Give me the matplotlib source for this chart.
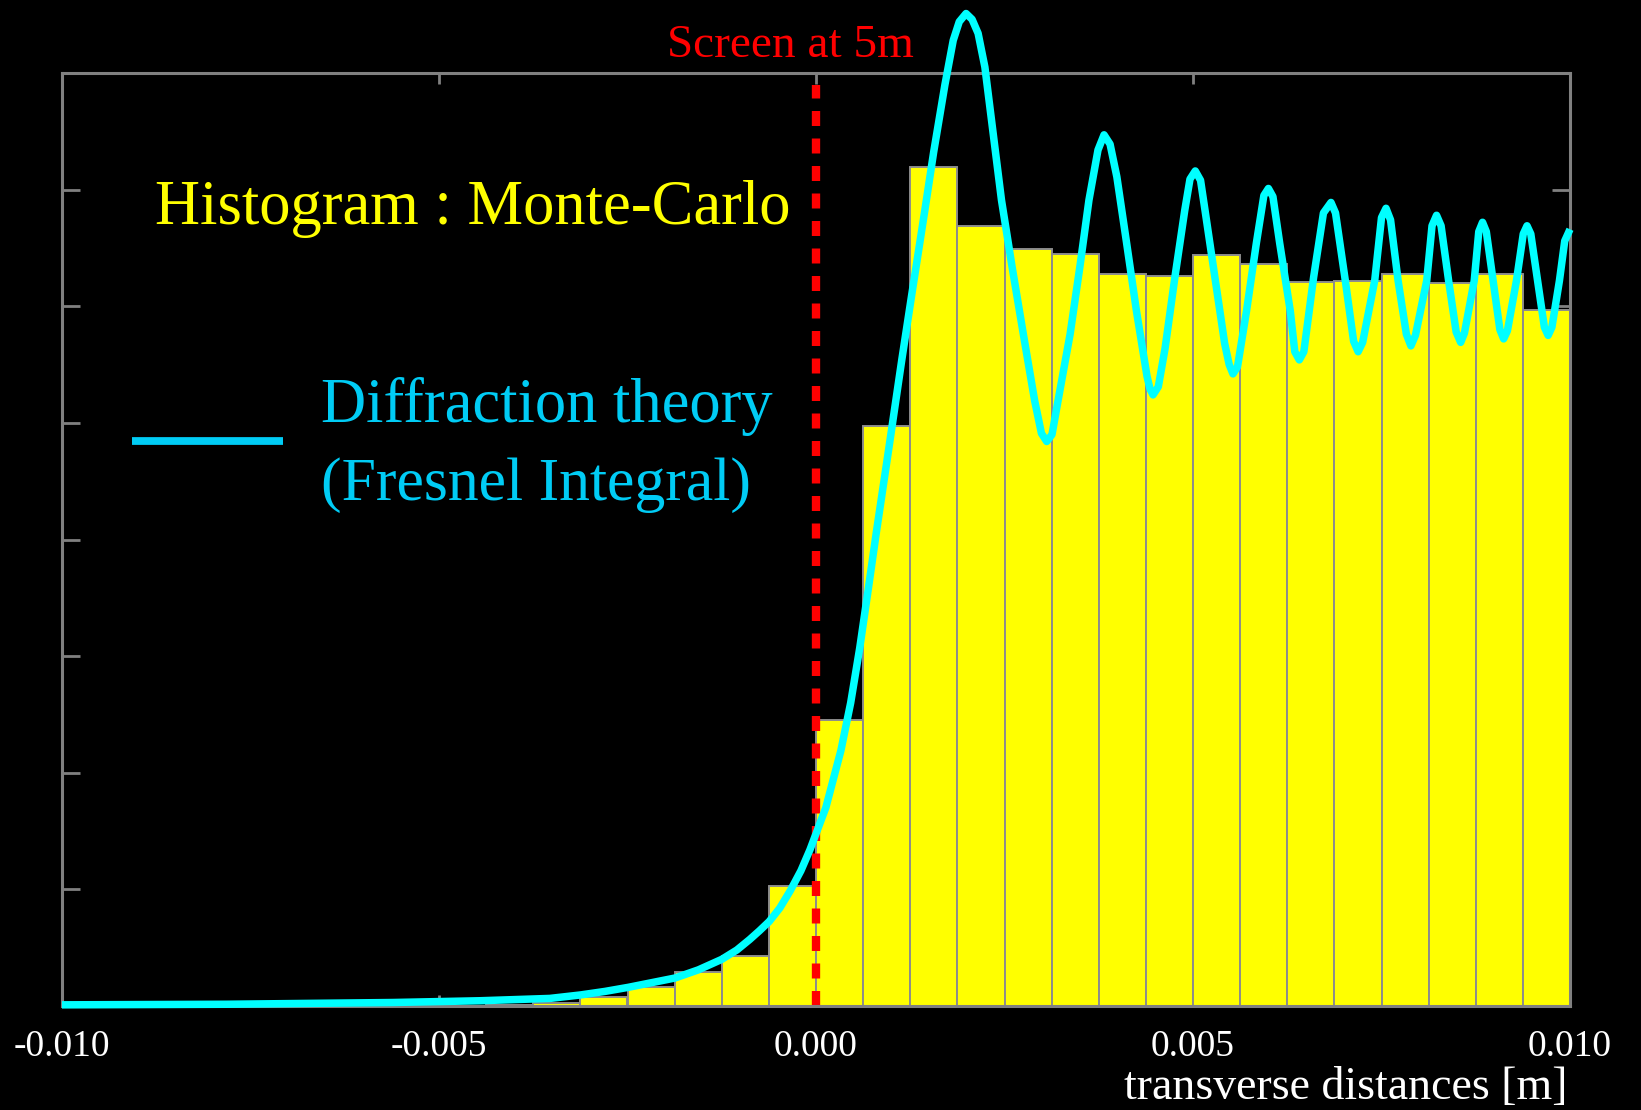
import numpy as np
import matplotlib
matplotlib.use("Agg")
import matplotlib.pyplot as plt
from matplotlib.lines import Line2D

plt.rcParams['axes.unicode_minus'] = False
plt.rcParams['font.family'] = ['Liberation Serif', 'DejaVu Serif']

# ---------------- data ----------------
# Monte-Carlo histogram: 32 bins from -0.010 to 0.010 m
hist_range = (-0.010, 0.010)
n_bins = 32
hist_counts = [0.0, 0.0, 0.0, 0.0, 0.0, 0.0, 0.0, 0.0,
               0.0, 0.01, 0.03, 0.08, 0.16, 0.29, 0.43, 1.03,
               2.45, 4.97, 7.19, 6.69, 6.49, 6.45, 6.28, 6.26,
               6.44, 6.36, 6.21, 6.22, 6.28, 6.20, 6.28, 5.97]

# Diffraction theory curve (Fresnel integral)
theory_x = [-0.01000, -0.00782, -0.00561, -0.00446, -0.00353, -0.00312, -0.00280,
            -0.00249, -0.00218, -0.00187, -0.00156, -0.00125, -0.00105, -0.00088,
            -0.00075, -0.00062, -0.00048, -0.00034, -0.00020, -0.00008, 0.00013,
            0.00033, 0.00046, 0.00058, 0.00069, 0.00080, 0.00097, 0.00114, 0.00127,
            0.00145, 0.00156, 0.00171, 0.00182, 0.00190, 0.00199, 0.00207, 0.00215,
            0.00224, 0.00235, 0.00246, 0.00260, 0.00275, 0.00290, 0.00299, 0.00306,
            0.00313, 0.00321, 0.00337, 0.00350, 0.00362, 0.00374, 0.00382, 0.00390,
            0.00399, 0.00412, 0.00425, 0.00439, 0.00443, 0.00447, 0.00454, 0.00463,
            0.00476, 0.00489, 0.00496, 0.00503, 0.00510, 0.00516, 0.00529, 0.00542,
            0.00548, 0.00553, 0.00559, 0.00571, 0.00584, 0.00594, 0.00600, 0.00606,
            0.00615, 0.00629, 0.00635, 0.00641, 0.00647, 0.00660, 0.00673, 0.00683,
            0.00689, 0.00702, 0.00713, 0.00719, 0.00725, 0.00741, 0.00750, 0.00756,
            0.00762, 0.00772, 0.00783, 0.00789, 0.00795, 0.00810, 0.00817, 0.00823,
            0.00829, 0.00839, 0.00849, 0.00855, 0.00860, 0.00873, 0.00879, 0.00884,
            0.00889, 0.00898, 0.00907, 0.00912, 0.00917, 0.00929, 0.00938, 0.00943,
            0.00948, 0.00957, 0.00966, 0.00971, 0.00976, 0.00986, 0.00993, 0.01000]
theory_y = [0.01, 0.015, 0.03, 0.045, 0.065, 0.095, 0.125,
            0.16, 0.20, 0.24, 0.31, 0.40, 0.48, 0.57,
            0.645, 0.725, 0.84, 0.99, 1.16, 1.34, 1.70,
            2.19, 2.60, 3.07, 3.56, 4.06, 4.80, 5.55, 6.10,
            6.85, 7.32, 7.90, 8.28, 8.44, 8.51, 8.46, 8.34,
            8.05, 7.48, 6.91, 6.34, 5.76, 5.19, 4.91, 4.84,
            4.90, 5.19, 5.76, 6.34, 6.91, 7.34, 7.47, 7.39,
            7.11, 6.54, 5.96, 5.40, 5.29, 5.24, 5.31, 5.64,
            6.25, 6.82, 7.09, 7.16, 7.08, 6.82, 6.25, 5.68,
            5.50, 5.42, 5.48, 5.96, 6.54, 6.95, 7.01, 6.94,
            6.54, 5.96, 5.61, 5.54, 5.61, 6.25, 6.80, 6.89,
            6.80, 6.22, 5.70, 5.61, 5.69, 6.22, 6.76, 6.84,
            6.74, 6.22, 5.76, 5.66, 5.75, 6.22, 6.69, 6.78,
            6.69, 6.22, 5.78, 5.69, 5.77, 6.22, 6.64, 6.72,
            6.64, 6.22, 5.80, 5.72, 5.79, 6.22, 6.62, 6.69,
            6.62, 6.22, 5.82, 5.75, 5.82, 6.22, 6.56, 6.66]

screen_x = 0.0
xtick_vals = [-0.010, -0.005, 0.000, 0.005, 0.010]
xtick_labels = ["-0.010", "-0.005", "0.000", "0.005", "0.010"]
ytick_vals = [0, 1, 2, 3, 4, 5, 6, 7, 8]

# ---------------- figure ----------------
W, H = 1641, 1110
fig = plt.figure(figsize=(W / 100, H / 100), dpi=100, facecolor='black')

def fx(px):
    return px / W

def fy(py):
    return 1 - py / H

ax_l, ax_r, ax_t, ax_b = 62, 1570, 73, 1006
ax = fig.add_axes([fx(ax_l), fy(ax_b), (ax_r - ax_l) / W, (ax_b - ax_t) / H])
ax.set_facecolor('black')

edges = np.linspace(hist_range[0], hist_range[1], n_bins + 1)
ax.bar(edges[:-1], hist_counts, width=np.diff(edges), align='edge',
       color='#FFFF00', edgecolor='#8C8C8C', linewidth=1.4, zorder=2)

ax.plot([screen_x, screen_x], [0, 7.9], color='#FF0000', linewidth=6,
        dashes=(1.8, 1.5), solid_capstyle='butt', dash_capstyle='butt', zorder=3)

ax.plot(theory_x, theory_y, color='#00FFFF', linewidth=5.4, clip_on=False,
        solid_joinstyle='round', solid_capstyle='butt', zorder=6)

ax.set_xlim(hist_range)
ax.set_ylim(0, 8)
ax.set_xticks(xtick_vals)
ax.set_xticklabels(xtick_labels)
ax.set_yticks(ytick_vals)
ax.set_yticklabels([])
ax.tick_params(axis='x', direction='in', length=8, width=2, color='#808080',
               top=True, labelcolor='white', labelsize=27, pad=17)
ax.tick_params(axis='y', direction='in', length=13, width=2, color='#808080',
               right=True)
for sp in ax.spines.values():
    sp.set_color('#808080')
    sp.set_linewidth(2.2)
    sp.set_zorder(4)

# ---------------- texts ----------------
fig.text(fx(155), fy(224), "Histogram : Monte-Carlo", color='#FFFF00',
         fontsize=45, ha='left', va='baseline')
fig.text(fx(321), fy(422), "Diffraction theory", color='#00CCF5',
         fontsize=45, ha='left', va='baseline')
fig.text(fx(321), fy(500), "(Fresnel Integral)", color='#00CCF5',
         fontsize=44.5, ha='left', va='baseline')
fig.add_artist(Line2D([fx(132), fx(283)], [fy(441), fy(441)], color='#00CCF5',
                      linewidth=5.6, solid_capstyle='butt'))
fig.text(fx(667), fy(57), "Screen at 5m", color='#FF0000',
         fontsize=34, ha='left', va='baseline')
fig.text(fx(1567), fy(1099), "transverse distances [m]", color='white',
         fontsize=33, ha='right', va='baseline')

fig.savefig("out.png", dpi=100, facecolor='black')
